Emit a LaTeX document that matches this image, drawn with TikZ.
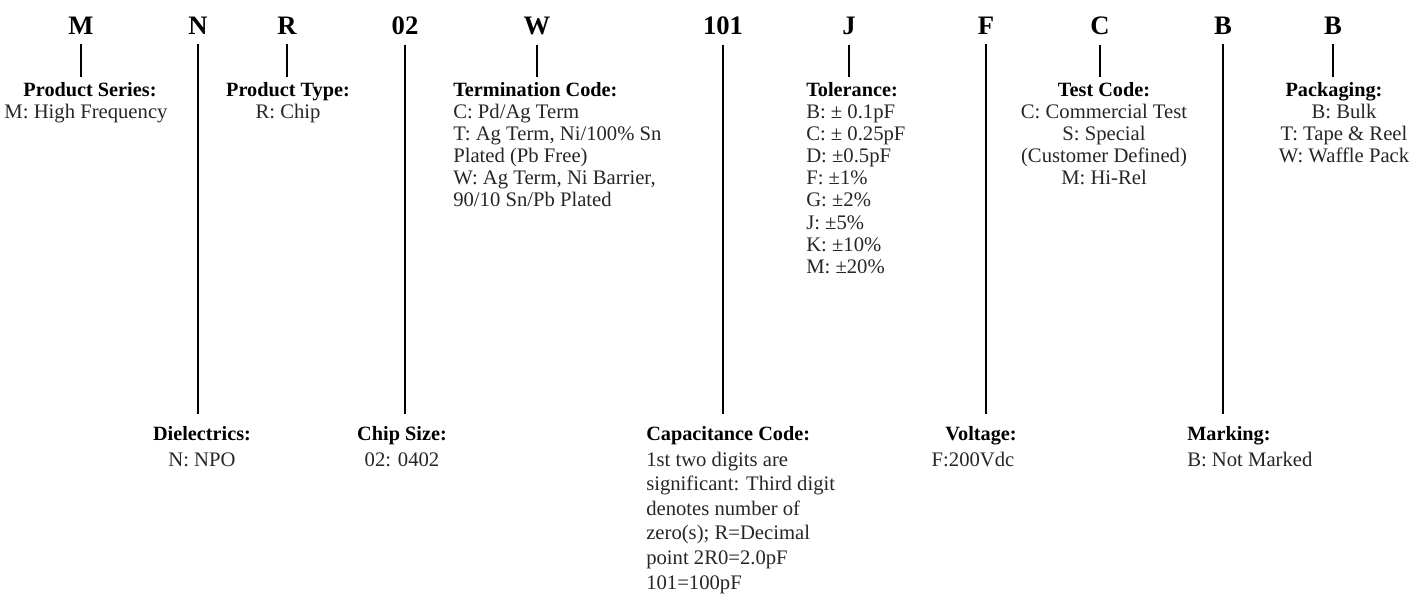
\documentclass[tikz,border=0pt]{standalone}
\usepackage{fontspec}
\setmainfont{Liberation Serif}
\begin{document}
\tikzset{
  code/.style={font=\fontsize{20}{24}\selectfont\bfseries, inner sep=0pt, anchor=base},
  ttl/.style={font=\fontsize{15.2}{18}\selectfont\bfseries, inner sep=0pt},
  body/.style={font=\fontsize{15.5}{18}\selectfont, inner sep=0pt, text=black!85},
  conn/.style={line width=1.6pt, shorten <=6.75pt},
  shortc/.style={conn, shorten >=4.5pt},
  longc/.style={conn, shorten >=9pt},
}
\begin{tikzpicture}[x=0.75pt,y=-0.75pt]
\useasboundingbox (0,0) rectangle (1419,595);

% code letters
\node[code] (cM)   at (81,35)   {M};
\node[code] (cN)   at (198,35)  {N};
\node[code] (cR)   at (287,35)  {R};
\node[code] (c02)  at (405,35)  {02};
\node[code] (cW)   at (537,35)  {W};
\node[code] (c101) at (723,35)  {101};
\node[code] (cJ)   at (849,35)  {J};
\node[code] (cF)   at (986,35)  {F};
\node[code] (cC)   at (1100,35) {C};
\node[code] (cB1)  at (1223,35) {B};
\node[code] (cB2)  at (1333,35) {B};

% ---- top blocks ----
\node[ttl, anchor=base] (tPS) at (90,97) {Product Series:};
\node[body, anchor=base] (bPS) at (86,119) {M: High Frequency};

\node[ttl, anchor=base] (tPT) at (288,97) {Product Type:};
\node[body, anchor=base] (bPT) at (288,119) {R: Chip};

\node[ttl, anchor=base west] (tTC) at (453,97) {Termination Code:};
\foreach \t [count=\i from 0] in {{C: Pd/Ag Term},{T: Ag Term, Ni/100\% Sn},{Plated (Pb Free)},{W: Ag Term, Ni Barrier,},{90/10 Sn/Pb Plated}}
  \node[body, anchor=base west] (bTC\i) at (453,{119+22*\i}) {\t};

\node[ttl, anchor=base west] (tTol) at (806,97) {Tolerance:};
\foreach \t [count=\i from 0] in {{B: ± 0.1pF},{C: ± 0.25pF},{D: ±0.5pF},{F: ±1\%},{G: ±2\%},{J: ±5\%},{K: ±10\%},{M: ±20\%}}
  \node[body, anchor=base west] (bTol\i) at (806,{119+22*\i}) {\t};

\node[ttl, anchor=base] (tTest) at (1104,97) {Test Code:};
\foreach \t [count=\i from 0] in {{C: Commercial Test},{S: Special},{(Customer Defined)},{M: Hi-Rel}}
  \node[body, anchor=base] (bTest\i) at (1104,{119+22*\i}) {\t};

\node[ttl, anchor=base] (tPack) at (1334,97) {Packaging:};
\foreach \t [count=\i from 0] in {{B: Bulk},{T: Tape \& Reel},{W: Waffle Pack}}
  \node[body, anchor=base] (bPack\i) at (1344,{119+22*\i}) {\t};

% ---- bottom blocks ----
\node[ttl, anchor=base] (tDiel) at (202,440) {Dielectrics:};
\node[body, anchor=base] (bDiel) at (202,466) {N: NPO};

\node[ttl, anchor=base] (tCS) at (402,440) {Chip Size:};
\node[body, anchor=base] (bCS) at (402,466) {02: 0402};

\node[ttl, anchor=base west] (tCap) at (646,440) {Capacitance Code:};
\foreach \t [count=\i from 0] in {{1st two digits are},{significant: Third digit},{denotes number of},{zero(s); R=Decimal},{point 2R0=2.0pF},{101=100pF}}
  \node[body, anchor=base west] (bCap\i) at (646,{466+24.6*\i}) {\t};

\node[ttl, anchor=base] (tVolt) at (981,440) {Voltage:};
\node[body, anchor=base] (bVolt) at (973,466) {F:200Vdc};

\node[ttl, anchor=base west] (tMark) at (1187,440) {Marking:};
\node[body, anchor=base west] (bMark) at (1187,466) {B: Not Marked};

% ---- connectors ----
\draw[shortc] (cM.south)   -- (cM.south |- tPS.north);
\draw[shortc] (cR.south)   -- (cR.south |- tPT.north);
\draw[shortc] (cW.south)   -- (cW.south |- tTC.north);
\draw[shortc] (cJ.south)   -- (cJ.south |- tTol.north);
\draw[shortc] (cC.south)   -- (cC.south |- tTest.north);
\draw[shortc] (cB2.south)  -- (cB2.south |- tPack.north);

\draw[longc] (cN.south)   -- (cN.south |- tDiel.north);
\draw[longc] (c02.south)  -- (c02.south |- tCS.north);
\draw[longc] (c101.south) -- (c101.south |- tCap.north);
\draw[longc] (cF.south)   -- (cF.south |- tVolt.north);
\draw[longc] (cB1.south)  -- (cB1.south |- tMark.north);
\end{tikzpicture}
\end{document}
